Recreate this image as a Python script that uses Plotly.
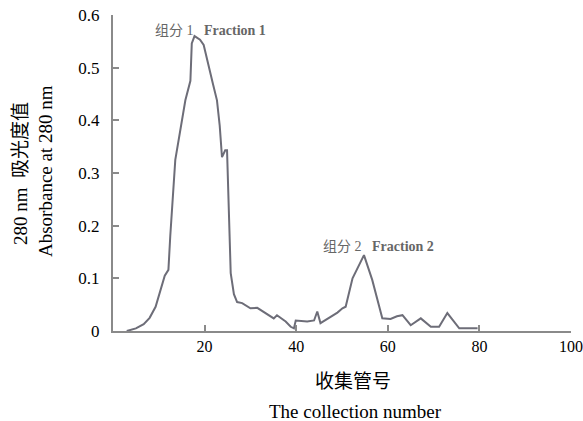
import plotly.graph_objects as go

tube = [3, 5, 6.7, 8, 9.3, 10.6, 11.3, 12.1, 12.5, 13.6, 14.8, 15.8, 16.9, 17.2, 17.8, 19.0,
        19.8, 20.9, 21.8, 22.7, 23.3, 23.8, 24.5, 24.9, 25.3, 25.7, 26.4, 27.1, 28.2, 29.0,
        30.0, 31.5, 32.9, 34.0, 35.1, 35.8, 36.5, 37.7, 38.8, 39.5, 39.9, 42.4, 43.9, 44.6,
        45.3, 47.2, 49.0, 50.1, 50.8, 52.3, 54.8, 56.6, 58.1, 58.8, 60.6, 62.0, 63.2, 65.0,
        67.2, 69.4, 71.2, 73.0, 75.6, 79.6]
absorbance = [0.0, 0.005, 0.013, 0.025, 0.046, 0.087, 0.105, 0.116, 0.18, 0.325, 0.39, 0.438,
              0.475, 0.546, 0.56, 0.553, 0.543, 0.5, 0.47, 0.438, 0.39, 0.33, 0.343, 0.343,
              0.2, 0.11, 0.07, 0.055, 0.053, 0.048, 0.043, 0.044, 0.036, 0.03, 0.024, 0.03,
              0.026, 0.018, 0.008, 0.005, 0.02, 0.018, 0.02, 0.037, 0.015, 0.025, 0.035, 0.043,
              0.046, 0.1, 0.144, 0.097, 0.05, 0.024, 0.023, 0.028, 0.03, 0.011, 0.024, 0.008,
              0.008, 0.034, 0.005, 0.005]

x_ticks = [20, 40, 60, 80, 100]
y_ticks = [0, 0.1, 0.2, 0.3, 0.4, 0.5, 0.6]
y_tick_text = ["0", "0.1", "0.2", "0.3", "0.4", "0.5", "0.6"]

FONT = "Liberation Serif, Times New Roman, Noto Sans CJK SC, serif"
AXC = "#8a8a8a"

fig = go.Figure()
fig.add_trace(go.Scatter(x=tube, y=absorbance, mode="lines",
                         line=dict(color="#6d6d78", width=2), hoverinfo="skip"))

L, R, T, B = 113, 12, 15, 90
W, H = 583, 421
PW, PH = W - L - R, H - T - B


def px(xp, yp):
    return (xp - L) / PW, (H - B - yp) / PH


anns = []
for text, xp, yp, size, color, ang in [
    ("组分 1   <b>Fraction 1</b>", 210, 30, 14, "#666666", 0),
    ("组分 2   <b>Fraction 2</b>", 378, 246, 14, "#666666", 0),
    ("收集管号", 353, 381, 19, "black", 0),
    ("The collection number", 355, 411, 19, "black", 0),
    ("280 nm  吸光度值", 20, 174, 19, "black", -90),
    ("Absorbance at 280 nm", 45, 171, 19, "black", -90),
]:
    xx, yy = px(xp, yp)
    anns.append(dict(text=text, x=xx, y=yy, xref="paper", yref="paper", showarrow=False,
                     xanchor="center", yanchor="middle", textangle=ang,
                     font=dict(size=size, color=color, family=FONT)))

fig.update_layout(
    width=W, height=H,
    margin=dict(l=L, r=R, t=T, b=B, autoexpand=False),
    plot_bgcolor="white", paper_bgcolor="white",
    showlegend=False,
    font=dict(family=FONT, size=17, color="black"),
    xaxis=dict(range=[0, 100], tickvals=x_ticks, ticks="inside", ticklen=6,
               tickcolor=AXC, tickwidth=2, showline=True, linecolor=AXC, linewidth=2,
               showgrid=False, zeroline=False, automargin=False,
               ticklabeloverflow="allow",
               tickfont=dict(size=16, family=FONT)),
    yaxis=dict(range=[0, 0.6], tickvals=y_ticks, ticktext=y_tick_text, ticks="inside",
               ticklen=6, tickcolor=AXC, tickwidth=2, showline=True, linecolor=AXC,
               linewidth=2, showgrid=False, zeroline=False, ticklabelstandoff=8,
               automargin=False, tickfont=dict(size=17, family=FONT)),
    annotations=anns,
)

fig.write_html("out.html", config={"displayModeBar": False},
               post_script="document.body.style.margin='0';document.body.style.overflow='hidden';")
